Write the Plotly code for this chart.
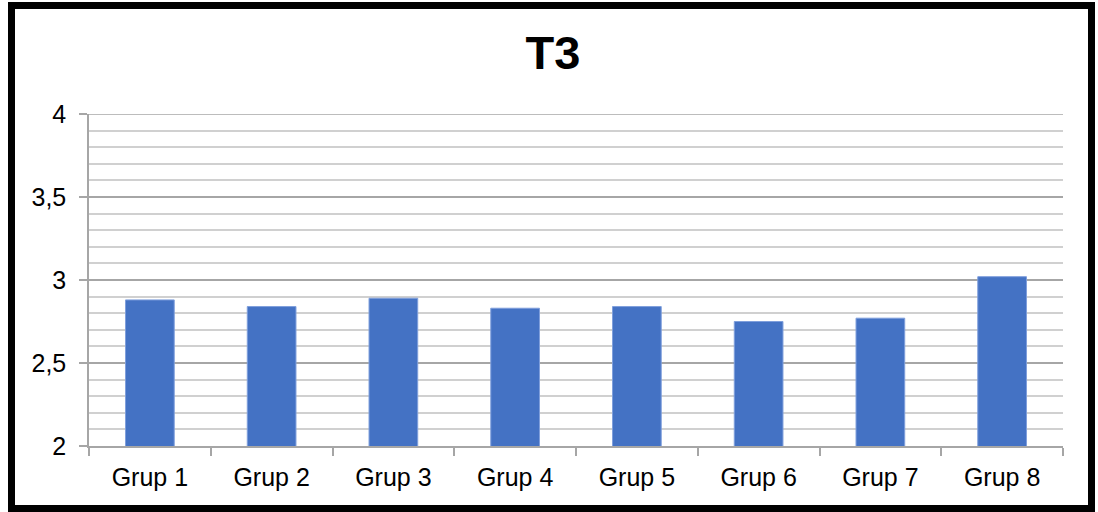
import plotly.graph_objects as go

# Category names and mean values per group
groups = ["Grup 1", "Grup 2", "Grup 3", "Grup 4", "Grup 5", "Grup 6", "Grup 7", "Grup 8"]
values = [2.88, 2.84, 2.89, 2.83, 2.84, 2.75, 2.77, 3.02]
y_tick_values = [2, 2.5, 3, 3.5, 4]

W, H = 1098, 512
ML, MR, MT, MB = 89, 35, 114, 66
PW, PH = W - ML - MR, H - MT - MB


def px_to_paper_x(px):
    return (px - ML) / PW


def px_to_paper_y(py):
    return (H - MB - py) / PH


fig = go.Figure(
    go.Bar(
        x=groups,
        y=values,
        marker=dict(color="#4472C4", line=dict(color="#7f9fdc", width=1)),
        width=0.4,
        hoverinfo="x+y",
    )
)

fig.update_layout(
    width=W,
    height=H,
    margin=dict(l=ML, r=MR, t=MT, b=MB),
    paper_bgcolor="white",
    plot_bgcolor="white",
    separators=",.",
    showlegend=False,
    font=dict(family="Liberation Sans, Arial, sans-serif", color="black", size=25),
    title=dict(
        text="<b>T3</b>",
        x=px_to_paper_x(553),
        xref="paper",
        xanchor="center",
        y=1 - 53 / H,
        yref="container",
        yanchor="middle",
        font=dict(size=47, color="black"),
    ),
    shapes=[
        # outer chart frame
        dict(
            type="rect",
            xref="paper",
            yref="paper",
            x0=px_to_paper_x(11.5),
            x1=px_to_paper_x(1091.5),
            y0=px_to_paper_y(508.5),
            y1=px_to_paper_y(5.5),
            line=dict(color="black", width=7),
            fillcolor="rgba(0,0,0,0)",
            layer="above",
        ),
        # top major gridline at the upper end of the value range
        dict(
            type="line",
            xref="paper",
            yref="y",
            x0=0,
            x1=1,
            y0=y_tick_values[-1],
            y1=y_tick_values[-1],
            line=dict(color="#a6a6a6", width=1.5),
            layer="below",
        ),
    ],
)

fig.update_xaxes(
    showline=True,
    linecolor="#a6a6a6",
    linewidth=1.5,
    ticks="outside",
    tickson="boundaries",
    ticklen=8,
    tickcolor="#a6a6a6",
    tickwidth=1.5,
    showgrid=False,
    ticklabelstandoff=8,
    tickfont=dict(size=25),
)

fig.update_yaxes(
    range=[2, 4],
    tickvals=y_tick_values,
    tickformat=".1~f",
    showline=True,
    linecolor="#a6a6a6",
    linewidth=1.5,
    ticks="outside",
    ticklen=8,
    tickcolor="#a6a6a6",
    tickwidth=1.5,
    showgrid=True,
    gridcolor="#a6a6a6",
    gridwidth=1.5,
    zeroline=False,
    ticklabelstandoff=8,
    tickfont=dict(size=25),
    minor=dict(dtick=0.1, showgrid=True, gridcolor="#d0d0d0", gridwidth=1.5, ticks=""),
)

fig.write_html("out.html")
